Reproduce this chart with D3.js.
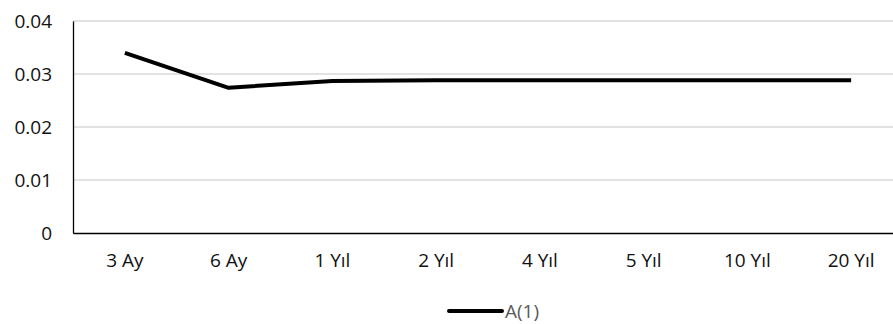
<!DOCTYPE html>
<html>
<head>
<meta charset="utf-8">
<script src="https://cdn.jsdelivr.net/npm/d3@7/dist/d3.min.js"></script>
<style>
  html, body { margin: 0; padding: 0; background: #fff; }
  svg { display: block; }
</style>
</head>
<body>
<svg id="chart" width="893" height="324"></svg>
<script>
// Maturities and the A(1) series
const categories = ["3 Ay", "6 Ay", "1 Yıl", "2 Yıl", "4 Yıl", "5 Yıl", "10 Yıl", "20 Yıl"];
const seriesName = "A(1)";
const values = [0.0340, 0.0274, 0.0287, 0.0288, 0.0288, 0.0288, 0.0288, 0.0288];
const yTicks = [0, 0.01, 0.02, 0.03, 0.04];

const svg = d3.select("#chart");
const plot = { left: 73, right: 903, top: 21, bottom: 233 };
const fontFamily = "'Open Sans', 'Noto Sans', sans-serif";
const fontSize = 19;

const x = d3.scaleBand().domain(categories).range([plot.left, plot.right]);
const y = d3.scaleLinear().domain([0, 0.04]).range([plot.bottom, plot.top]);

// Horizontal gridlines
svg.append("g")
  .selectAll("line")
  .data(yTicks.filter(d => d > 0))
  .join("line")
  .attr("x1", plot.left).attr("x2", 893)
  .attr("y1", d => y(d)).attr("y2", d => y(d))
  .attr("stroke", "#d9d9d9").attr("stroke-width", 1.3);

// Y axis
const yAxis = svg.append("g")
  .attr("transform", `translate(${plot.left},0)`)
  .call(d3.axisLeft(y).tickValues(yTicks).tickSize(0).tickPadding(21)
    .tickFormat(d => d === 0 ? "0" : d3.format(".2f")(d)))
  .attr("font-family", fontFamily).attr("font-size", fontSize);
yAxis.select(".domain").attr("stroke", "#000").attr("stroke-width", 1.3);
yAxis.selectAll("text").attr("fill", "#111");

// X axis
const xAxis = svg.append("g")
  .attr("transform", `translate(0,${plot.bottom})`)
  .call(d3.axisBottom(x).tickSize(0).tickPadding(21))
  .attr("font-family", fontFamily).attr("font-size", fontSize);
xAxis.select(".domain").attr("stroke", "#000").attr("stroke-width", 1.3);
xAxis.selectAll("text").attr("fill", "#111");

// Series line
const line = d3.line()
  .x((d, i) => x(categories[i]) + x.bandwidth() / 2)
  .y(d => y(d));
svg.append("path")
  .datum(values)
  .attr("d", line)
  .attr("fill", "none")
  .attr("stroke", "#000")
  .attr("stroke-width", 4)
  .attr("stroke-linejoin", "round");

// Legend
const legend = svg.append("g").attr("transform", "translate(449,311)");
legend.append("line")
  .attr("x1", 0).attr("x2", 53).attr("y1", 0).attr("y2", 0)
  .attr("stroke", "#000").attr("stroke-width", 4).attr("stroke-linecap", "round");
legend.append("text")
  .attr("x", 56).attr("y", 0).attr("dy", "0.35em")
  .attr("font-family", fontFamily).attr("font-size", fontSize)
  .attr("fill", "#595959")
  .text(seriesName);
</script>
</body>
</html>
